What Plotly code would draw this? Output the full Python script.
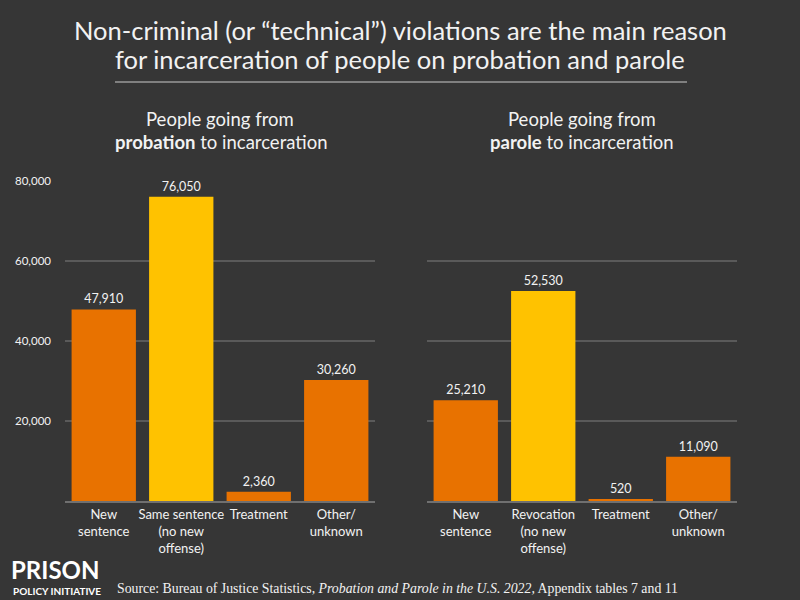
import plotly.graph_objects as go

prob_categories = ["New<br>sentence", "Same sentence<br>(no new<br>offense)", "Treatment", "Other/<br>unknown"]
prob_values = [47910, 76050, 2360, 30260]
parole_categories = ["New<br>sentence", "Revocation<br>(no new<br>offense)", "Treatment", "Other/<br>unknown"]
parole_values = [25210, 52530, 520, 11090]
prob_colors = ["#E87200", "#FFC200", "#E87200", "#E87200"]
parole_colors = ["#E87200", "#FFC200", "#E87200", "#E87200"]
y_ticks = [20000, 40000, 60000, 80000]
y_tick_labels = ["20,000", "40,000", "60,000", "80,000"]

FONT = "Lato"
TXT = "#f2f2f2"

fig = go.Figure()
fig.add_trace(go.Bar(
    x=prob_categories, y=prob_values, marker_color=prob_colors,
    marker_line_width=0,
    text=[f"{v:,}" for v in prob_values], textposition="outside",
    textfont=dict(family=FONT, size=12.5, color=TXT), cliponaxis=False,
    xaxis="x", yaxis="y", showlegend=False, hoverinfo="skip"))
fig.add_trace(go.Bar(
    x=parole_categories, y=parole_values, marker_color=parole_colors,
    marker_line_width=0,
    text=[f"{v:,}" for v in parole_values], textposition="outside",
    textfont=dict(family=FONT, size=12.5, color=TXT), cliponaxis=False,
    xaxis="x2", yaxis="y2", showlegend=False, hoverinfo="skip"))

ydom = [1 - 500 / 600, 1 - 176 / 600]
common_y = dict(range=[0, 80000], tickvals=y_ticks, showgrid=True,
                gridcolor="#5a5a5a", gridwidth=1.5, zeroline=False,
                showline=False, fixedrange=True, domain=ydom)
common_x = dict(showline=True, linecolor="#707070", linewidth=2,
                tickfont=dict(family=FONT, size=13, color=TXT),
                ticks="", fixedrange=True)

fig.update_layout(
    width=800, height=600,
    margin=dict(l=0, r=0, t=0, b=0),
    paper_bgcolor="#363636", plot_bgcolor="rgba(0,0,0,0)",
    bargap=0.17,
    xaxis=dict(domain=[65 / 800, 375 / 800], anchor="y", **common_x),
    xaxis2=dict(domain=[427 / 800, 737 / 800], anchor="y2", **common_x),
    yaxis=dict(anchor="x", ticktext=y_tick_labels, ticklabelstandoff=13,
               tickfont=dict(family=FONT, size=11.5, color=TXT), **common_y),
    yaxis2=dict(anchor="x2", showticklabels=False, **common_y),
    font=dict(family=FONT, color=TXT),
)

# soft vignette background (lighter centre, darker edges)
for i in range(10):
    fig.add_shape(type="rect", xref="paper", yref="paper", layer="below",
                  x0=i * 0.035, x1=1 - i * 0.035, y0=i * 0.03, y1=1 - i * 0.03,
                  fillcolor="rgba(255,255,255,0.0055)", line_width=0)

annotations = [
    dict(text="Non-criminal (or “technical”) violations are the main reason",
         x=0.5, y=1 - 23 / 600, font=dict(family=FONT, size=25.5, color=TXT)),
    dict(text="for incarceration of people on probation and parole",
         x=0.5, y=1 - 53 / 600, font=dict(family=FONT, size=25.5, color=TXT)),
    dict(text="People going from",
         x=220 / 800, y=1 - 113 / 600, font=dict(family=FONT, size=18.5, color=TXT)),
    dict(text="<b>probation</b> to incarceration",
         x=221 / 800, y=1 - 137 / 600, font=dict(family=FONT, size=18.5, color=TXT)),
    dict(text="People going from",
         x=582 / 800, y=1 - 113 / 600, font=dict(family=FONT, size=18.5, color=TXT)),
    dict(text="<b>parole</b> to incarceration",
         x=582 / 800, y=1 - 137 / 600, font=dict(family=FONT, size=18.5, color=TXT)),
    dict(text="<b>PRISON</b>", x=10 / 800, y=1 - 585 / 600, xanchor="left", yanchor="bottom",
         borderpad=0, font=dict(family=FONT, size=24, color="#ffffff")),
    dict(text="<b>POLICY INITIATIVE</b>", x=12 / 800, y=1 - 584 / 600, xanchor="left", yanchor="top",
         borderpad=0, font=dict(family=FONT, size=10, color="#ffffff")),
    dict(text="Source: Bureau of Justice Statistics, <i>Probation and Parole in the U.S. 2022,</i> Appendix tables 7 and 11",
         x=115 / 800, y=1 - 588 / 600, xanchor="left",
         font=dict(family="Liberation Serif", size=13.8, color=TXT)),
]
for a in annotations:
    a.update(xref="paper", yref="paper", showarrow=False)
    a.setdefault("xanchor", "center")
    a.setdefault("yanchor", "middle")
fig.update_layout(annotations=annotations)

fig.add_shape(type="line", xref="paper", yref="paper",
              x0=115 / 800, x1=687 / 800, y0=1 - 76 / 600, y1=1 - 76 / 600,
              line=dict(color="#9a9a9a", width=1.5))

fig.write_html("out.html", config={"displayModeBar": False},
               post_script="document.body.style.margin='0';document.body.style.overflow='hidden';")
